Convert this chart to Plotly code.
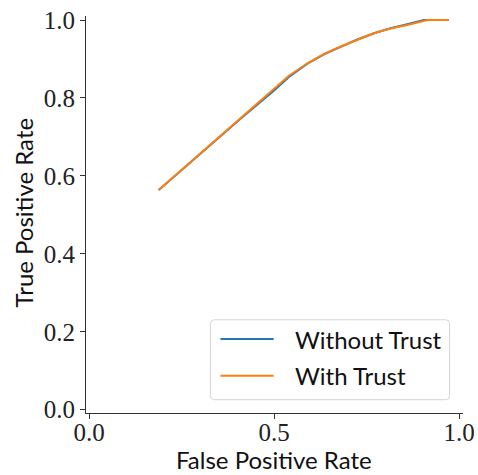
import plotly.graph_objects as go

# ROC curve points (false positive rate, true positive rate)
fpr_without = [0.188, 0.300, 0.410, 0.500, 0.540, 0.590, 0.635, 0.680, 0.725, 0.770, 0.815, 0.860, 0.905, 0.972]
tpr_without = [0.564, 0.657, 0.747, 0.819, 0.854, 0.888, 0.912, 0.931, 0.950, 0.966, 0.979, 0.989, 1.000, 1.000]

fpr_with = [0.188, 0.300, 0.410, 0.500, 0.540, 0.590, 0.635, 0.680, 0.725, 0.770, 0.815, 0.860, 0.915, 0.972]
tpr_with = [0.564, 0.657, 0.748, 0.822, 0.857, 0.889, 0.913, 0.932, 0.950, 0.966, 0.978, 0.987, 1.000, 1.000]

series_names = ["Without Trust", "With Trust"]
series_colors = ["#1f77b4", "#ff7f0e"]

x_ticks = [0.0, 0.5, 1.0]
x_tick_text = ["0.0", "0.5", "1.0"]
y_ticks = [0.0, 0.2, 0.4, 0.6, 0.8, 1.0]
y_tick_text = ["0.0", "0.2", "0.4", "0.6", "0.8", "1.0"]

W, H = 478, 475
M_L, M_R, M_T, M_B = 85.5, 15.3, 16, 61.7
plot_w = W - M_L - M_R
plot_h = H - M_T - M_B

fig = go.Figure()
for fx, ty, name, color in zip([fpr_without, fpr_with], [tpr_without, tpr_with],
                               series_names, series_colors):
    fig.add_trace(go.Scatter(x=fx, y=ty, mode="lines", name=name,
                             line=dict(color=color, width=2), showlegend=False))

serif = "Liberation Serif, DejaVu Serif, serif"
sans = "Lato, Liberation Sans, sans-serif"
axis_color = "#333333"

common_axis = dict(showline=True, linecolor=axis_color, linewidth=1.2,
                   ticks="outside", ticklen=5, tickwidth=1.1, tickcolor=axis_color,
                   showgrid=False, zeroline=False, mirror=False, automargin=False,
                   tickfont=dict(family=serif, size=25, color="#222222"))

fig.update_layout(
    width=W, height=H,
    margin=dict(l=M_L, r=M_R, t=M_T, b=M_B, pad=0),
    paper_bgcolor="white", plot_bgcolor="white",
    xaxis=dict(range=[-0.0086, 1.0108], tickvals=x_ticks, ticktext=x_tick_text,
               ticklabelstandoff=-8, **common_axis),
    yaxis=dict(range=[-0.0085, 1.0103], tickvals=y_ticks, ticktext=y_tick_text,
               **common_axis),
)

# Pixel -> paper coordinate helpers
def px_x(px):
    return (px - M_L) / plot_w

def px_y(py):
    return (H - M_B - py) / plot_h

title_font = dict(family=sans, size=24, color="#111111")
fig.add_annotation(text="False Positive Rate", xref="paper", yref="paper",
                   x=px_x(273.5), y=px_y(460), xanchor="center", yanchor="middle",
                   showarrow=False, font=title_font)
fig.add_annotation(text="True Positive Rate", xref="paper", yref="paper",
                   x=px_x(23), y=px_y(213), xanchor="center", yanchor="middle",
                   textangle=-90, showarrow=False, font=title_font)

# Legend box in the lower right of the axes
bx0, bx1, by0, by1, r = 210, 449.3, 320, 400, 4
path = (f"M {px_x(bx0 + r)},{px_y(by0)} L {px_x(bx1 - r)},{px_y(by0)} "
        f"Q {px_x(bx1)},{px_y(by0)} {px_x(bx1)},{px_y(by0 + r)} "
        f"L {px_x(bx1)},{px_y(by1 - r)} Q {px_x(bx1)},{px_y(by1)} {px_x(bx1 - r)},{px_y(by1)} "
        f"L {px_x(bx0 + r)},{px_y(by1)} Q {px_x(bx0)},{px_y(by1)} {px_x(bx0)},{px_y(by1 - r)} "
        f"L {px_x(bx0)},{px_y(by0 + r)} Q {px_x(bx0)},{px_y(by0)} {px_x(bx0 + r)},{px_y(by0)} Z")
fig.add_shape(type="path", path=path, xref="paper", yref="paper",
              line=dict(color="#d6d6d6", width=1), fillcolor="rgba(255,255,255,0.8)")

row_y = [339.3, 376.0]
for name, color, yy in zip(series_names, series_colors, row_y):
    fig.add_shape(type="line", xref="paper", yref="paper",
                  x0=px_x(220), x1=px_x(273.3), y0=px_y(yy), y1=px_y(yy),
                  line=dict(color=color, width=2))
    fig.add_annotation(text=name, xref="paper", yref="paper", x=px_x(293), y=px_y(yy),
                       xanchor="left", yanchor="middle", showarrow=False,
                       font=dict(family=sans, size=24, color="#111111"))

fig.write_html("out.html")
